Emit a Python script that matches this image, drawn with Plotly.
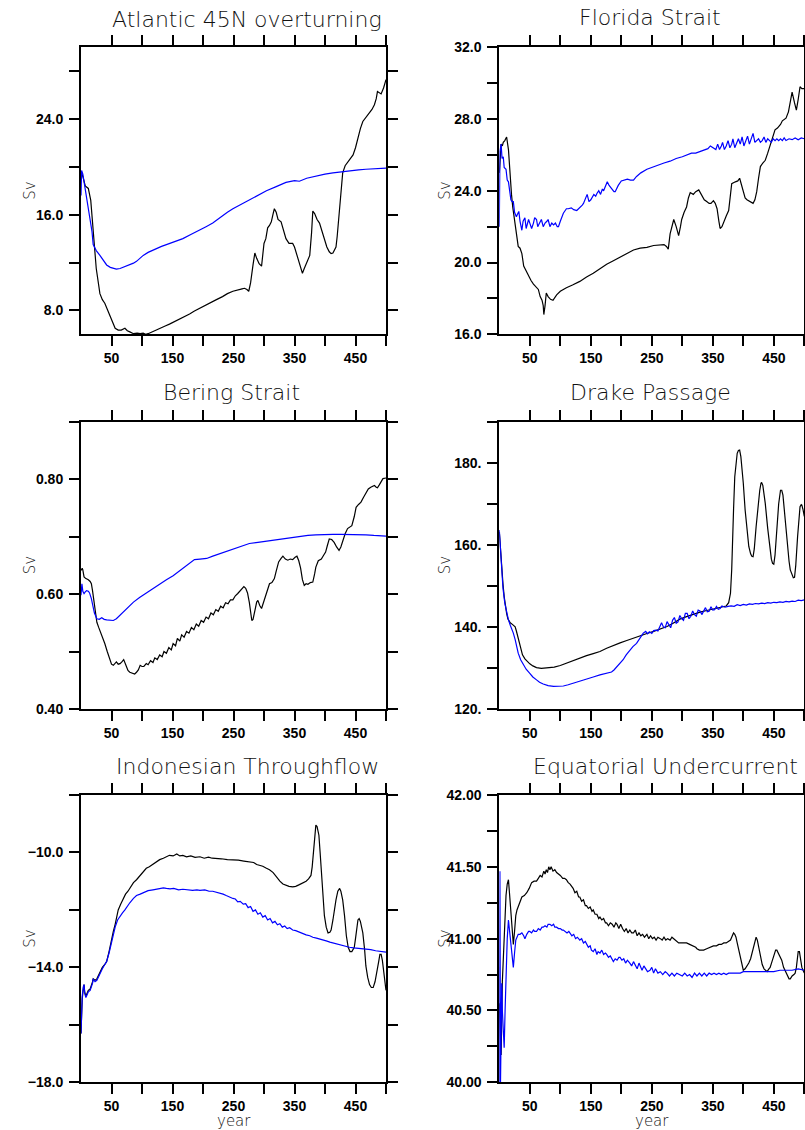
import plotly.graph_objects as go

# ---------------- data (year, Sv) ----------------
atlantic_ctrl = [(0,19.6),(3,19.2),(7,18.4),(12,18.2),(16,17.2),(20,14.4),(25,11.5),(31,9.4),(35,8.9),(39,8.6),
    (43,8.1),(47,7.6),(52,7.0),(56,6.5),(61,6.35),(66,6.35),(72,6.5),(76,6.3),(80,6.2),(86,6.05),(92,6.1),(97,6.05),
    (102,6.1),(106,6.0),(110,6.05),(116,6.2),(124,6.4),(130,6.5),(138,6.7),(145,6.85),(151,7.0),(160,7.25),(170,7.5),
    (178,7.7),(186,7.95),(195,8.2),(205,8.45),(215,8.7),(222,8.9),(232,9.15),(240,9.4),(249,9.6),(258,9.75),(264,9.8),
    (268,9.85),(272,9.75),(275,9.6),(278,10.3),(282,11.8),(285,12.8),(288,12.35),(292,11.9),(296,11.7),(300,13.6),
    (303,14.0),(306,14.9),(309,15.1),(312,15.4),(315,16.1),(317,16.5),(320,16.2),(323,15.6),(328,15.4),(332,14.6),
    (336,14.0),(341,13.6),(347,13.6),(350,13.3),(353,12.8),(358,11.9),(363,11.1),(366,11.5),(369,11.9),(372,12.2),
    (375,12.6),(378,14.5),(380,16.3),(383,16.1),(387,15.6),(391,15.3),(395,14.6),(399,13.9),(403,13.3),(407,12.9),
    (410,12.75),(413,12.8),(416,13.1),(418,13.3),(420,14.2),(423,15.8),(426,17.8),(429,19.5),(433,20.1),(437,20.4),
    (441,20.7),(446,21.0),(450,21.6),(454,22.5),(458,23.2),(462,23.8),(468,24.2),(473,24.5),(477,24.8),(481,25.2),
    (484,25.7),(486,26.3),(489,26.2),(492,26.1),(496,26.6),(500,27.3)]
atlantic_exp = [(0,17.6),(1,19.7),(3,19.4),(6,18.5),(9,17.5),(12,16.5),(15,15.6),(18,14.6),(20,13.5),(25,13.0),
    (31,12.6),(37,12.2),(42,11.8),(48,11.6),(53,11.5),(58,11.45),(64,11.5),(72,11.65),(80,11.85),(86,11.95),(91,12.1),
    (97,12.35),(102,12.6),(110,12.85),(118,13.05),(124,13.2),(132,13.35),(140,13.5),(146,13.6),(155,13.8),(167,14.0),
    (180,14.35),(195,14.7),(205,15.0),(216,15.3),(230,15.85),(240,16.2),(249,16.5),(262,16.85),(276,17.2),(290,17.6),
    (304,18.0),(320,18.35),(336,18.7),(350,18.85),(358,18.8),(370,19.05),(385,19.25),(400,19.4),(413,19.5),(427,19.6),
    (440,19.7),(455,19.75),(467,19.8),(485,19.85),(500,19.9)]

florida_ctrl = [(0,25.0),(1,25.8),(3,26.6),(5,26.5),(6.5,26.7),(9,26.8),(12,27.0),(15,26.3),(17.5,24.8),(20,23.8),
    (22,23.1),(25,22.3),(27,21.8),(31,20.9),(34,20.8),(37,20.5),(40,19.8),(44,19.5),(48,19.2),(52,19.0),(56,18.8),
    (61,18.6),(64,18.5),(67,18.1),(70,17.9),(72,17.6),(73,17.1),(75,17.6),(77,18.3),(80,18.1),(84,17.95),(88,17.9),
    (94,18.2),(100,18.4),(110,18.6),(120,18.75),(132,18.95),(143,19.2),(154,19.4),(165,19.65),(176,19.9),(187,20.1),
    (198,20.3),(209,20.5),(220,20.7),(231,20.8),(242,20.85),(253,20.95),(264,21.0),(270,21.0),(274,20.9),(277,20.75),
    (280,21.6),(283,22.1),(286,22.4),(290,22.0),(294,21.5),(297,22.0),(299,22.4),(303,22.8),(307,23.1),(310,23.6),
    (313,23.9),(318,23.8),(322,23.95),(327,24.05),(332,23.7),(336,23.5),(340,23.4),(344,23.3),(347,23.3),(351,23.45),
    (354,23.3),(357,23.0),(360,22.3),(362,21.9),(365,22.0),(368,22.3),(372,22.6),(376,22.9),(379,23.8),(381,24.4),
    (387,24.5),(391,24.55),(394,24.7),(398,24.2),(403,23.6),(406,23.5),(410,23.4),(416,23.3),(419,23.5),(422,23.95),
    (425,24.7),(428,25.35),(432,25.55),(436,25.7),(440,26.1),(444,26.5),(448,26.9),(452,27.4),(456,27.5),(461,27.7),
    (464,27.9),(467,28.0),(470,28.05),(474,28.4),(477,29.0),(480,29.5),(484,28.9),(487,28.5),(490,29.1),(493,29.8),
    (496,29.7),(500,29.7)]
florida_exp = [(0,22.0),(1,26.2),(3,26.6),(4.5,25.8),(6.5,25.9),(8,25.3),(11,25.2),(13,24.6),(15,24.5),(17,24.0),
    (19,23.5),(21,23.4),(23,23.4),(25,22.8),(28,22.55),(30,22.7),(32,22.85),(34,22.3),(37,21.8),(39,22.3),(42,22.5),
    (44,21.9),(46,22.1),(48,22.4),(50,22.2),(53,21.9),(56,22.2),(58,22.5),(61,22.4),(63,22.0),(66,22.2),(69,22.4),
    (72,22.0),(75,22.2),(78,22.3),(80,22.4),(83,22.0),(86,22.2),(89,22.1),(92,22.2),(95,22.0),(97,22.0),(100,22.3),
    (105,22.75),(110,23.0),(113,23.0),(118,23.05),(122,22.95),(127,22.9),(132,23.05),(136,23.2),(138,23.3),(141,23.6),
    (144,23.8),(147,23.4),(150,23.5),(155,23.8),(158,23.7),(160,23.85),(163,24.0),(166,23.8),(169,24.1),(171,24.0),
    (174,24.3),(177,24.5),(180,24.3),(184,24.1),(188,23.95),(190,23.95),(195,24.3),(200,24.55),(204,24.6),(210,24.65),
    (215,24.6),(220,24.6),(225,24.8),(232,25.0),(242,25.2),(250,25.3),(260,25.45),(270,25.55),(280,25.65),(290,25.8),
    (300,25.9),(307,26.0),(315,26.1),(322,26.1),(329,26.2),(336,26.3),(342,26.35),(346,26.5),(350,26.4),(355,26.3),
    (358,26.6),(361,26.3),(364,26.5),(366,26.7),(369,26.3),(372,26.5),(375,26.8),(378,26.4),(381,26.6),(383,26.9),
    (386,26.4),(389,26.7),(392,26.9),(395,26.6),(398,27.0),(401,26.5),(404,26.8),(407,27.05),(410,26.6),(413,26.9),
    (416,27.2),(419,26.7),(422,26.8),(425,26.9),(428,26.7),(431,26.8),(434,27.0),(437,26.7),(440,26.9),(443,26.8),
    (446,26.7),(449,26.9),(452,26.8),(455,26.9),(458,26.8),(461,26.9),(464,26.8),(467,26.95),(470,26.8),(475,26.9),
    (480,26.85),(485,26.95),(490,26.85),(495,26.95),(500,26.9)]

bering_ctrl = [(0,0.641),(2,0.645),(3,0.642),(5,0.630),(8,0.627),(12,0.625),(15,0.622),(17,0.618),(19,0.605),
    (22,0.583),(24,0.565),(26,0.551),(29,0.542),(31,0.537),(35,0.525),(39,0.514),(43,0.500),(47,0.485),(50,0.478),
    (53,0.476),(56,0.480),(58,0.482),(61,0.478),(64,0.479),(67,0.482),(70,0.486),(73,0.478),(77,0.467),(80,0.464),
    (84,0.462),(88,0.461),(91,0.464),(94,0.468),(97,0.476),(100,0.474),(103,0.474),(107,0.479),(110,0.477),(114,0.484),
    (118,0.481),(121,0.489),(125,0.486),(129,0.494),(133,0.491),(136,0.500),(140,0.497),(144,0.507),(148,0.503),
    (151,0.514),(155,0.510),(158,0.523),(162,0.518),(165,0.529),(169,0.525),(173,0.535),(177,0.532),(181,0.542),
    (185,0.538),(189,0.548),(193,0.544),(197,0.554),(201,0.551),(205,0.560),(209,0.557),(213,0.567),(217,0.564),
    (221,0.573),(225,0.570),(229,0.579),(233,0.576),(237,0.585),(241,0.583),(245,0.590),(249,0.590),(253,0.597),
    (257,0.601),(261,0.606),(264,0.610),(267,0.613),(270,0.610),(273,0.602),(276,0.585),(278,0.565),(280,0.554),
    (282,0.556),(285,0.572),(288,0.586),(290,0.589),(293,0.580),(296,0.575),(299,0.585),(302,0.598),(305,0.608),
    (309,0.618),(313,0.620),(317,0.627),(320,0.640),(324,0.656),(328,0.662),(331,0.666),(335,0.661),(339,0.659),
    (343,0.661),(347,0.660),(351,0.664),(354,0.666),(357,0.658),(360,0.645),(363,0.625),(366,0.615),(369,0.618),
    (372,0.617),(376,0.620),(380,0.621),(383,0.635),(385,0.647),(389,0.658),(394,0.661),(398,0.668),(401,0.673),
    (404,0.685),(407,0.696),(411,0.695),(415,0.690),(419,0.682),(423,0.676),(426,0.682),(429,0.693),(433,0.705),
    (437,0.714),(441,0.717),(444,0.719),(448,0.735),(451,0.751),(455,0.756),(459,0.760),(463,0.768),(467,0.777),
    (471,0.783),(475,0.786),(479,0.789),(481,0.789),(484,0.786),(486,0.785),(489,0.790),(492,0.797),(495,0.801),
    (500,0.802)]
bering_exp = [(0,0.598),(1.5,0.618),(3,0.605),(5,0.601),(7,0.604),(9,0.606),(12,0.605),(14,0.602),(17,0.592),
    (19,0.580),(22,0.567),(26,0.557),(30,0.556),(34,0.559),(38,0.556),(42,0.555),(48,0.555),(53,0.554),(58,0.557),
    (64,0.563),(70,0.569),(75,0.575),(80,0.580),(86,0.586),(96,0.594),(107,0.602),(118,0.610),(129,0.618),(140,0.625),
    (151,0.632),(162,0.641),(173,0.650),(180,0.655),(186,0.660),(195,0.661),(206,0.662),(216,0.666),(227,0.670),
    (238,0.675),(249,0.679),(262,0.684),(276,0.688),(290,0.690),(304,0.692),(318,0.695),(331,0.697),(345,0.699),
    (358,0.700),(372,0.702),(385,0.703),(400,0.704),(413,0.704),(426,0.704),(440,0.704),(455,0.704),(467,0.703),
    (480,0.702),(490,0.702),(500,0.701)]

drake_ctrl = [(0,163.2),(2,158.5),(4,153.9),(6,150.5),(8,147.4),(10,145.0),(12,143.3),(14,142.0),(16,141.3),
    (18,141.0),(20,140.8),(23,140.5),(26,140.0),(28,139.0),(30,137.7),(33,135.8),(35,134.4),(38,133.2),(42,132.2),
    (46,131.5),(50,131.0),(55,130.5),(61,130.1),(69,129.9),(76,130.0),(83,130.1),(90,130.2),(100,130.6),(110,131.2),
    (121,131.8),(132,132.4),(143,133.0),(154,133.5),(165,134.0),(176,134.8),(187,135.5),(198,136.1),(209,136.7),
    (220,137.3),(231,137.9),(242,138.4),(253,138.9),(264,139.5),(275,140.1),(285,140.9),(296,141.9),(307,142.5),
    (318,143.1),(329,143.6),(340,144.0),(351,144.4),(362,144.8),(368,145.0),(372,145.1),(376,145.9),(379,148.2),
    (381,154.0),(382,160.4),(384,168.5),(386,176.6),(388,180.5),(390,182.3),(392,183.0),(394,183.1),(396,181.5),
    (398,179.0),(400,175.0),(403,168.5),(406,163.5),(409,159.6),(412,157.8),(414,157.2),(416,157.1),(418,159.0),
    (421,164.4),(424,169.5),(427,173.3),(429,175.0),(430,175.2),(432,174.5),(434,172.5),(436,170.1),(440,164.0),
    (443,159.6),(446,156.5),(448,155.5),(450,155.3),(452,157.5),(455,164.4),(458,170.0),(461,173.3),(463,173.3),
    (465,172.1),(468,167.0),(470,163.0),(472,160.4),(475,156.0),(477,153.9),(480,152.5),(482,152.0),(484,152.1),
    (486,155.0),(489,162.0),(491,166.0),(493,169.3),(495,169.8),(496,169.7),(498,168.5),(500,166.9)]
drake_exp = [(0,163.6),(2,158.0),(4,153.1),(6,149.5),(9,145.8),(12,143.3),(15,141.7),(18,140.4),(20,139.7),
    (23,138.5),(26,136.9),(28,135.5),(31,133.6),(35,132.0),(39,130.8),(44,129.7),(50,128.7),(55,127.8),(61,127.1),
    (66,126.5),(72,126.1),(80,125.7),(89,125.5),(97,125.5),(105,125.6),(113,125.9),(121,126.3),(132,126.8),
    (143,127.3),(154,127.8),(165,128.3),(175,128.7),(184,129.0),(188,129.5),(193,130.4),(198,131.2),(203,132.0),
    (208,133.2),(214,134.4),(219,135.2),(225,136.0),(230,137.0),(236,138.5),(240,138.9),(243,138.3),(246,138.8),
    (250,138.4),(253,139.1),(257,139.2),(260,139.0),(263,139.9),(266,141.0),(269,140.0),(272,139.8),(275,141.3),
    (278,140.5),(281,139.8),(284,141.6),(287,142.3),(290,140.9),(293,141.2),(296,142.8),(299,142.0),(302,141.6),
    (305,143.3),(308,143.3),(311,142.0),(314,142.6),(317,143.9),(320,143.0),(323,142.6),(326,144.1),(329,143.9),
    (332,143.0),(335,143.9),(338,144.7),(341,143.7),(344,143.8),(347,144.9),(350,144.1),(353,144.2),(356,145.0),
    (359,144.3),(362,144.5),(365,145.1),(370,144.8),(375,145.0),(380,145.1),(385,145.0),(390,145.4),(395,145.2),
    (400,145.5),(405,145.3),(410,145.6),(415,145.5),(420,145.7),(425,145.6),(430,145.8),(435,145.7),(440,145.9),
    (445,145.8),(450,146.0),(455,145.9),(460,146.1),(465,146.0),(470,146.2),(475,146.1),(480,146.3),(485,146.2),
    (490,146.5),(495,146.4),(500,146.6)]

indonesian_ctrl = [(0,-16.3),(1,-15.5),(2,-15.1),(4,-14.7),(5,-14.6),(6,-14.85),(8,-15.0),(10,-14.9),(12,-14.8),
    (15,-14.75),(17,-14.65),(19,-14.5),(20,-14.4),(23,-14.45),(26,-14.4),(28,-14.3),(31,-14.15),(35,-14.0),(39,-13.9),
    (42,-13.8),(46,-13.45),(50,-13.0),(53,-12.75),(56,-12.5),(58,-12.25),(61,-12.0),(65,-11.8),(69,-11.6),(73,-11.45),
    (77,-11.35),(81,-11.2),(86,-11.05),(91,-10.95),(97,-10.8),(102,-10.65),(107,-10.55),(112,-10.5),(118,-10.4),
    (124,-10.3),(129,-10.25),(135,-10.2),(140,-10.15),(145,-10.1),(151,-10.12),(157,-10.05),(162,-10.12),(167,-10.1),
    (173,-10.15),(180,-10.12),(187,-10.17),(195,-10.15),(202,-10.2),(209,-10.16),(215,-10.2),(222,-10.2),(230,-10.22),
    (240,-10.25),(249,-10.25),(258,-10.27),(267,-10.3),(276,-10.32),(283,-10.35),(288,-10.42),(293,-10.45),
    (298,-10.48),(304,-10.55),(309,-10.6),(315,-10.7),(320,-10.85),(326,-11.0),(331,-11.1),(336,-11.15),(341,-11.18),
    (347,-11.2),(352,-11.18),(358,-11.12),(363,-11.07),(369,-11.0),(373,-10.92),(377,-10.8),(379,-10.5),(381,-9.9),
    (383,-9.4),(385,-9.05),(387,-9.1),(390,-9.4),(392,-10.0),(394,-10.7),(397,-11.6),(399,-12.2),(402,-12.6),
    (405,-12.8),(408,-12.78),(410,-12.7),(413,-12.35),(416,-11.9),(418,-11.65),(421,-11.35),(424,-11.25),(426,-11.35),
    (429,-11.65),(432,-12.2),(435,-12.9),(438,-13.3),(441,-13.45),(444,-13.45),(448,-13.3),(450,-13.0),(452,-12.6),
    (454,-12.35),(456,-12.3),(458,-12.4),(460,-12.6),(462,-12.8),(465,-13.4),(467,-13.95),(470,-14.35),(473,-14.6),
    (476,-14.7),(479,-14.7),(482,-14.5),(485,-14.2),(488,-13.8),(490,-13.55),(492,-13.55),(494,-13.75),(496,-14.1),
    (498,-14.45),(500,-14.8)]
indonesian_exp = [(0,-16.3),(1,-15.4),(2,-15.0),(4,-14.65),(5,-14.6),(6,-14.9),(8,-15.05),(10,-14.95),(12,-14.85),
    (15,-14.8),(17,-14.7),(19,-14.55),(20,-14.4),(23,-14.5),(26,-14.45),(28,-14.35),(31,-14.2),(35,-14.05),(39,-13.9),
    (42,-13.8),(46,-13.5),(50,-13.1),(53,-12.85),(56,-12.6),(60,-12.35),(64,-12.2),(68,-12.1),(72,-12.0),(76,-11.85),
    (80,-11.75),(86,-11.6),(91,-11.5),(97,-11.45),(102,-11.4),(110,-11.33),(118,-11.3),(124,-11.27),(129,-11.25),
    (135,-11.23),(140,-11.25),(146,-11.27),(152,-11.25),(160,-11.3),(167,-11.28),(175,-11.3),(183,-11.32),(190,-11.3),
    (195,-11.32),(203,-11.3),(210,-11.35),(216,-11.35),(222,-11.38),(228,-11.42),(233,-11.45),(238,-11.5),(243,-11.55),
    (249,-11.6),(253,-11.62),(257,-11.72),(261,-11.7),(266,-11.8),(270,-11.78),(274,-11.92),(278,-11.88),(282,-12.05),
    (286,-12.0),(290,-12.15),(294,-12.1),(298,-12.25),(302,-12.2),(306,-12.35),(310,-12.3),(314,-12.45),(318,-12.4),
    (322,-12.52),(326,-12.48),(330,-12.6),(334,-12.56),(338,-12.65),(342,-12.62),(347,-12.7),(352,-12.72),(358,-12.78),
    (364,-12.83),(369,-12.87),(375,-12.9),(380,-12.95),(386,-12.98),(391,-13.02),(397,-13.05),(402,-13.08),
    (408,-13.12),(413,-13.15),(420,-13.2),(427,-13.23),(433,-13.27),(440,-13.3),(447,-13.32),(453,-13.33),(460,-13.35),
    (467,-13.37),(475,-13.38),(483,-13.42),(490,-13.43),(500,-13.47)]

euc_ctrl = [(0,40.55),(1,40.4),(3,40.19),(5,40.7),(8,41.05),(11,41.3),(13,41.38),(15,41.41),(17,41.3),(19,41.18),
    (21,41.05),(23,40.96),(25,41.05),(27,41.16),(29,41.2),(31,41.22),(34,41.26),(37,41.29),(41,41.3),(45,41.32),
    (49,41.35),(53,41.39),(57,41.4),(61,41.4),(64,41.42),(67,41.44),(70,41.43),(73,41.47),(75,41.45),(77,41.48),
    (79,41.46),(81,41.5),(83,41.48),(85,41.5),(88,41.47),(91,41.48),(94,41.46),(97,41.45),(100,41.44),(104,41.42),
    (107,41.42),(110,41.41),(113,41.39),(116,41.38),(119,41.36),(121,41.35),(124,41.32),(127,41.33),(130,41.29),
    (132,41.29),(135,41.26),(138,41.27),(141,41.23),(143,41.23),(146,41.21),(149,41.22),(152,41.19),(154,41.2),
    (157,41.17),(160,41.17),(163,41.14),(165,41.15),(168,41.13),(171,41.14),(174,41.11),(176,41.11),(179,41.09),
    (182,41.11),(185,41.1),(188,41.08),(191,41.11),(193,41.1),(196,41.07),(199,41.1),(202,41.07),(205,41.05),
    (208,41.07),(211,41.04),(214,41.06),(217,41.04),(220,41.04),(223,41.06),(226,41.02),(229,41.04),(232,41.02),
    (235,41.03),(238,41.01),(242,41.03),(245,41.0),(248,41.02),(251,41.0),(254,41.01),(257,40.99),(260,41.01),
    (264,41.0),(267,40.99),(270,41.01),(273,40.99),(276,41.0),(280,40.99),(283,41.01),(286,41.0),(290,40.98),
    (294,40.97),(298,40.97),(302,40.97),(307,40.97),(312,40.96),(318,40.95),(322,40.94),(324,40.93),(328,40.92),
    (332,40.92),(335,40.92),(340,40.93),(345,40.94),(351,40.95),(356,40.95),(360,40.96),(364,40.96),(368,40.97),
    (372,40.97),(376,40.98),(379,40.99),(382,41.02),(384,41.04),(386,41.03),(388,41.01),(390,40.97),(392,40.93),
    (394,40.9),(397,40.84),(400,40.78),(403,40.79),(406,40.81),(409,40.83),(412,40.86),(414,40.89),(416,40.92),
    (419,40.98),(421,41.01),(423,40.99),(425,40.94),(428,40.87),(431,40.82),(434,40.79),(436,40.78),(439,40.77),
    (442,40.79),(444,40.8),(447,40.84),(450,40.88),(453,40.92),(455,40.92),(458,40.89),(461,40.86),(463,40.85),
    (466,40.8),(468,40.78),(470,40.76),(473,40.73),(475,40.72),(477,40.72),(480,40.74),(483,40.75),(485,40.76),
    (487,40.8),(489,40.87),(490,40.91),(492,40.91),(494,40.85),(496,40.8),(498,40.78),(500,40.76)]
euc_exp = [(0,40.0),(1,41.47),(2,40.0),(3,40.3),(4,40.69),(5,40.5),(6.5,40.39),(8,40.24),(9.5,40.5),(11,40.76),
    (13,41.0),(15,41.13),(17,41.05),(19,40.94),(21,40.86),(23,40.8),(25,40.9),(27,40.99),(29,41.01),(31,41.03),
    (34,41.03),(37,41.04),(40,41.02),(42,41.0),(45,41.03),(48,41.05),(50,41.05),(53,41.04),(56,41.06),(58,41.05),
    (61,41.05),(64,41.07),(67,41.06),(70,41.08),(72,41.08),(75,41.09),(78,41.08),(80,41.1),(83,41.1),(86,41.09),
    (89,41.1),(91,41.08),(94,41.08),(97,41.07),(100,41.07),(103,41.06),(105,41.06),(108,41.05),(111,41.04),
    (114,41.05),(116,41.04),(119,41.02),(122,41.03),(125,41.0),(128,41.01),(132,40.99),(135,41.0),(138,40.97),
    (141,40.98),(143,40.96),(146,40.94),(149,40.95),(151,40.92),(154,40.91),(157,40.93),(160,40.89),(162,40.91),
    (165,40.9),(168,40.92),(171,40.89),(174,40.9),(176,40.89),(179,40.87),(182,40.88),(185,40.85),(187,40.84),
    (190,40.86),(193,40.85),(196,40.87),(198,40.87),(201,40.85),(204,40.86),(207,40.83),(210,40.85),(214,40.83),
    (217,40.81),(220,40.84),(223,40.81),(226,40.79),(229,40.83),(231,40.81),(234,40.78),(237,40.81),(240,40.79),
    (243,40.77),(247,40.78),(250,40.8),(253,40.76),(256,40.79),(260,40.76),(264,40.77),(268,40.75),(272,40.77),
    (275,40.76),(279,40.74),(283,40.76),(287,40.74),(291,40.76),(296,40.75),(300,40.74),(304,40.76),(308,40.74),
    (312,40.75),(316,40.73),(320,40.76),(324,40.74),(328,40.76),(332,40.74),(336,40.76),(340,40.74),(344,40.76),
    (348,40.75),(352,40.76),(356,40.75),(360,40.76),(364,40.75),(368,40.76),(372,40.75),(376,40.76),(380,40.76),
    (385,40.76),(390,40.76),(395,40.76),(400,40.77),(410,40.77),(420,40.77),(430,40.77),(440,40.77),(450,40.77),
    (460,40.78),(470,40.78),(480,40.78),(490,40.79),(500,40.78)]

titles = ["Atlantic 45N overturning", "Florida Strait", "Bering Strait",
          "Drake Passage", "Indonesian Throughflow", "Equatorial Undercurrent"]
x_tickvals = [50, 100, 150, 200, 250, 300, 350, 400, 450, 500]
x_ticktext = ["50", "", "150", "", "250", "", "350", "", "450", ""]
y_ranges = [[6, 30], [16, 32], [0.4, 0.9], [120, 190], [-18, -8], [40, 42]]
y_tickvals = [
    [8, 12, 16, 20, 24, 28],
    [16, 18, 20, 22, 24, 26, 28, 30, 32],
    [0.4, 0.5, 0.6, 0.7, 0.8, 0.9],
    [120, 130, 140, 150, 160, 170, 180, 190],
    [-18, -16, -14, -12, -10, -8],
    [40.0, 40.25, 40.5, 40.75, 41.0, 41.25, 41.5, 41.75, 42.0],
]
y_ticktext = [
    ["8.0", "", "16.0", "", "24.0", ""],
    ["16.0", "", "20.0", "", "24.0", "", "28.0", "", "32.0"],
    ["0.40", "", "0.60", "", "0.80", ""],
    ["120.", "", "140.", "", "160.", "", "180.", ""],
    ["\u221218.0", "", "\u221214.0", "", "\u221210.0", ""],
    ["40.00", "", "40.50", "", "41.00", "", "41.50", "", "42.00"],
]
series = [(atlantic_ctrl, atlantic_exp), (florida_ctrl, florida_exp), (bering_ctrl, bering_exp),
          (drake_ctrl, drake_exp), (indonesian_ctrl, indonesian_exp), (euc_ctrl, euc_exp)]

# ---------------- layout geometry (pixels) ----------------
W, H = 805, 1130
col_x = [(81, 386), (499.3, 804.3)]
row_y = [(47.3, 334.3), (421.7, 709.0), (795.0, 1082.3)]
title_pos = [(247, 19), (650, 18), (232, 392), (650, 392), (247, 766), (665, 766)]
sv_x = [30, 445]

fig = go.Figure()
TICKFONT = dict(family="Liberation Sans", size=14, color="black", weight="bold")
THIN = dict(family="DejaVu Sans ExtraLight, DejaVu Sans", color="#111111", weight=200)

for i in range(6):
    r, c = divmod(i, 2)
    n = "" if i == 0 else str(i + 1)
    x0, x1 = col_x[c]
    yt, yb = row_y[r]
    ctrl, exp = series[i]
    for data, color in ((ctrl, "black"), (exp, "blue")):
        fig.add_trace(go.Scatter(
            x=[p[0] for p in data], y=[p[1] for p in data], mode="lines",
            line=dict(color=color, width=1.2), showlegend=False,
            xaxis="x" + n, yaxis="y" + n, hoverinfo="skip"))
    fig.layout["xaxis" + n] = dict(
        domain=[x0 / W, x1 / W], anchor="y" + n, range=[0, 500], automargin=False,
        tickmode="array", tickvals=x_tickvals, ticktext=x_ticktext,
        ticks="outside", ticklen=10, tickwidth=2, tickcolor="black",
        showline=True, linewidth=2, linecolor="black", mirror="ticks",
        showgrid=False, zeroline=False, tickfont=TICKFONT, ticklabelstandoff=0)
    fig.layout["yaxis" + n] = dict(
        domain=[1 - yb / H, 1 - yt / H], anchor="x" + n, range=y_ranges[i], automargin=False,
        tickmode="array", tickvals=y_tickvals[i], ticktext=y_ticktext[i],
        ticks="outside", ticklen=10, tickwidth=2, tickcolor="black",
        showline=True, linewidth=2, linecolor="black", mirror="ticks",
        showgrid=False, zeroline=False, tickfont=TICKFONT, ticklabelstandoff=3)
    tx, ty = title_pos[i]
    fig.add_annotation(text=titles[i], x=tx / W, y=1 - ty / H, xref="paper", yref="paper",
                       xanchor="center", yanchor="middle", showarrow=False,
                       font=dict(size=22, **THIN))
    fig.add_annotation(text="Sv", x=sv_x[c] / W, y=1 - (yt + yb) / 2 / H, xref="paper", yref="paper",
                       xanchor="center", yanchor="middle", showarrow=False, textangle=-90,
                       font=dict(size=15, **THIN))
    if r == 2:
        fig.add_annotation(text="year", x=(x0 + x1) / 2 / W, y=1 - 1121 / H, xref="paper", yref="paper",
                           xanchor="center", yanchor="middle", showarrow=False,
                           font=dict(size=15, **THIN))

fig.update_layout(width=W, height=H, margin=dict(l=0, r=0, t=0, b=0, pad=0),
                  paper_bgcolor="white", plot_bgcolor="white")
fig.write_html("out.html")
